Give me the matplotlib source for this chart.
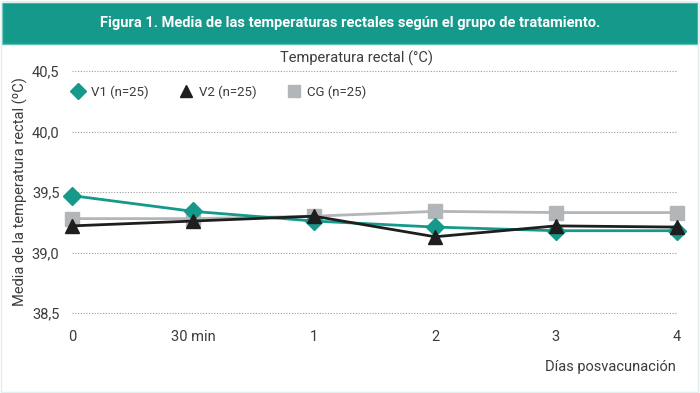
import matplotlib.pyplot as plt
from matplotlib.patches import Rectangle
from matplotlib.lines import Line2D

plt.rcParams['font.family'] = ['Roboto', 'DejaVu Sans']

# data
x_labels = ['0', '30 min', '1', '2', '3', '4']
v1 = [39.47, 39.34, 39.26, 39.21, 39.18, 39.18]
v2 = [39.22, 39.26, 39.30, 39.13, 39.22, 39.21]
cg = [39.28, 39.28, 39.30, 39.34, 39.33, 39.33]
y_ticks = [38.5, 39.0, 39.5, 40.0, 40.5]

teal = '#15998b'
grey = '#b3b6b8'
txt = '#3c3c3c'

fig = plt.figure(figsize=(7, 3.93), dpi=100)
W, H = 700, 393

# header bar
fig.patches.append(Rectangle((2 / W, 1 - 44 / H), 696 / W, 42 / H, transform=fig.transFigure,
                             facecolor=teal, edgecolor='#5cc0b5', lw=1))
fig.text(0.5, 1 - 23 / H, 'Figura 1. Media de las temperaturas rectales según el grupo de tratamiento.',
         ha='center', va='center', color='white', fontsize=10.5, fontweight='bold')
# light frame
fig.patches.append(Rectangle((1 / W, 1 / H), 697 / W, 390 / H, transform=fig.transFigure,
                             facecolor='none', edgecolor='#e3eeee', lw=1))

x = list(range(len(x_labels)))
left, right = 72, 677
top, bottom = 71, 313
ax = fig.add_axes([left / W, 1 - bottom / H, (right - left) / W, (bottom - top) / H])
ax.set_xlim(0, 5)
ax.set_ylim(38.5, 40.5)

for yv in y_ticks:
    ax.axhline(yv, color='#9a9a9a', lw=0.8, ls=(0, (1, 1.5)), zorder=0, clip_on=False)

ax.plot(x, cg, color=grey, lw=2, marker='s', ms=10, zorder=3, clip_on=False)
ax.plot(x, v1, color=teal, lw=2, marker='D', ms=9, zorder=4, clip_on=False)
ax.plot(x, v2, color='#1e1e1e', lw=2, marker='^', ms=10, zorder=5, clip_on=False)

for s in ax.spines.values():
    s.set_visible(False)
ax.set_yticks(y_ticks)
ax.set_yticklabels([('%.1f' % v).replace('.', ',') for v in y_ticks], color=txt, fontsize=10.5)
ax.set_xticks(x)
ax.set_xticklabels(x_labels, color=txt, fontsize=10.5)
ax.tick_params(length=0)
ax.tick_params(axis='x', pad=12)
ax.tick_params(axis='y', pad=9)
ax.set_ylabel('Media de la temperatura rectal (ºC)', color=txt, fontsize=10.5)
ax.yaxis.set_label_coords(-0.073, 0.5)

fig.text(357 / W, 1 - 58 / H, 'Temperatura rectal (°C)', ha='center', va='center', color=txt, fontsize=10.5)
fig.text(676 / W, 1 - 367 / H, 'Días posvacunación', ha='right', va='center', color=txt, fontsize=10.5)

handles = [Line2D([], [], color=teal, marker='D', ls='none', ms=8),
           Line2D([], [], color='#1e1e1e', marker='^', ls='none', ms=9),
           Line2D([], [], color=grey, marker='s', ls='none', ms=9)]
ax.legend(handles, ['V1 (n=25)', 'V2 (n=25)', 'CG (n=25)'], ncol=3, frameon=False,
          loc='upper left', bbox_to_anchor=(-0.001, 0.94), borderpad=0, borderaxespad=0,
          fontsize=9.5, handlelength=1, handletextpad=0.5, columnspacing=2.3, labelcolor=txt)

fig.savefig('out.png', dpi=100)
